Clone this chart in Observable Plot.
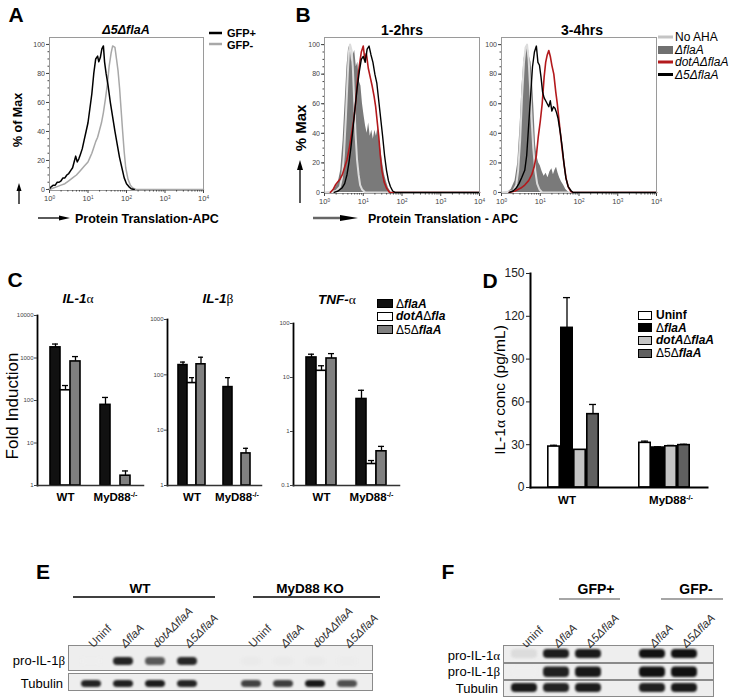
<!DOCTYPE html>
<html><head><meta charset="utf-8">
<script src="https://cdn.jsdelivr.net/npm/d3@7"></script>
<script src="https://cdn.jsdelivr.net/npm/@observablehq/plot@0.6"></script>
<style>
html,body{margin:0;padding:0;background:#fff}
#root{position:relative;width:734px;height:699px;overflow:hidden;font-family:"Liberation Sans",Arial,sans-serif;color:#000}
.t{position:absolute;white-space:nowrap;line-height:1}
.sw{position:absolute;box-sizing:border-box}
.g{font-family:"Liberation Serif","DejaVu Serif",serif;font-weight:normal;font-style:normal}
.n{font-weight:normal;font-style:normal}
</style></head><body><div id="root"></div>
<script>
// ================= DATA =================
// Panel A – flow histograms: [log10 fluorescence, % of max]
const gfpPos = [[0,0.5],[0.05,2],[0.1,3],[0.15,3],[0.2,5],[0.25,5],[0.3,6],[0.35,8],[0.4,8],[0.45,10],[0.5,11],[0.55,13],[0.6,15],[0.65,20],[0.68,23],[0.72,19],[0.76,21],[0.8,24],[0.85,28],[0.9,34],[0.95,40],[1.0,46],[1.05,56],[1.1,66],[1.15,80],[1.2,90],[1.25,92],[1.28,88],[1.32,91],[1.36,97],[1.4,99],[1.43,88],[1.47,80],[1.52,72],[1.58,60],[1.64,50],[1.7,40],[1.76,31],[1.82,22],[1.88,15],[1.94,8],[2.0,4],[2.06,2],[2.12,0.5],[2.2,0]];
const gfpNeg = [[0,0],[0.1,1],[0.2,2],[0.3,3],[0.4,4],[0.5,6],[0.6,8],[0.7,10],[0.8,13],[0.9,16],[1.0,19],[1.05,22],[1.1,25],[1.15,29],[1.2,33],[1.25,36],[1.3,41],[1.35,46],[1.4,53],[1.45,62],[1.5,72],[1.55,85],[1.6,94],[1.64,99],[1.7,98],[1.74,90],[1.78,82],[1.82,70],[1.86,55],[1.9,40],[1.94,26],[1.98,15],[2.04,7],[2.1,3],[2.16,1],[2.25,0],[4,0]];
// Panel B – 1-2 hrs
const noAHA1 = [[0,0],[0.3,1],[0.4,4],[0.45,10],[0.5,25],[0.55,50],[0.6,80],[0.63,95],[0.66,100],[0.7,96],[0.73,85],[0.77,60],[0.8,40],[0.84,22],[0.88,12],[0.92,5],[0.97,2],[1.05,0],[4,0]];
const flaA1 = [[0.15,0],[0.25,2],[0.35,6],[0.42,15],[0.48,35],[0.53,60],[0.58,85],[0.62,97],[0.66,100],[0.7,88],[0.74,93],[0.78,96],[0.82,85],[0.86,88],[0.9,75],[0.94,72],[0.98,60],[1.02,52],[1.06,45],[1.1,40],[1.14,47],[1.18,38],[1.22,42],[1.26,36],[1.3,42],[1.34,38],[1.38,44],[1.42,35],[1.46,28],[1.5,20],[1.55,12],[1.6,7],[1.65,3],[1.72,0]];
const dotA1 = [[0.15,0],[0.22,2],[0.28,5],[0.34,7],[0.4,9],[0.46,12],[0.52,17],[0.58,22],[0.64,30],[0.7,40],[0.76,50],[0.8,60],[0.85,75],[0.9,86],[0.95,95],[1.0,99],[1.04,90],[1.08,94],[1.13,84],[1.18,78],[1.23,72],[1.28,65],[1.32,58],[1.36,48],[1.4,38],[1.44,25],[1.48,15],[1.54,7],[1.6,3],[1.68,0],[4,0]];
const d5_1 = [[0.25,0],[0.35,1],[0.45,3],[0.52,6],[0.58,12],[0.63,20],[0.68,30],[0.73,42],[0.78,55],[0.84,70],[0.9,82],[0.95,90],[1.0,92],[1.05,88],[1.1,97],[1.15,99],[1.2,93],[1.25,88],[1.3,80],[1.35,74],[1.4,62],[1.45,50],[1.5,38],[1.55,25],[1.6,15],[1.65,8],[1.7,4],[1.76,1],[1.82,0],[4,0]];
// Panel B – 3-4 hrs
const noAHA2 = [[0,0],[0.3,1],[0.38,5],[0.43,15],[0.48,35],[0.53,65],[0.58,88],[0.62,98],[0.66,100],[0.7,90],[0.74,70],[0.78,48],[0.82,30],[0.87,15],[0.92,6],[0.98,2],[1.05,0],[4,0]];
const flaA2 = [[0.15,0],[0.25,2],[0.35,8],[0.42,20],[0.48,45],[0.53,72],[0.58,90],[0.63,97],[0.68,100],[0.72,92],[0.76,88],[0.8,75],[0.84,55],[0.88,32],[0.92,24],[0.96,20],[1.0,18],[1.05,14],[1.1,11],[1.15,13],[1.2,10],[1.25,14],[1.3,16],[1.34,12],[1.38,15],[1.42,17],[1.46,13],[1.5,10],[1.55,7],[1.6,5],[1.66,2],[1.74,0]];
const dotA2 = [[0.2,0],[0.35,1],[0.5,3],[0.6,5],[0.7,8],[0.78,12],[0.84,17],[0.9,25],[0.95,38],[1.0,48],[1.05,60],[1.1,78],[1.14,88],[1.18,93],[1.22,96],[1.26,92],[1.3,86],[1.35,80],[1.4,68],[1.44,60],[1.48,50],[1.52,40],[1.57,28],[1.62,18],[1.67,9],[1.72,4],[1.78,1],[1.84,0],[4,0]];
const d5_2 = [[0.2,0],[0.3,1],[0.38,3],[0.45,6],[0.52,10],[0.6,15],[0.65,25],[0.7,45],[0.75,65],[0.8,85],[0.85,95],[0.9,99],[0.94,88],[0.98,86],[1.02,78],[1.06,68],[1.1,64],[1.14,62],[1.18,60],[1.22,58],[1.26,62],[1.3,55],[1.34,58],[1.38,57],[1.42,54],[1.46,50],[1.52,40],[1.57,30],[1.61,20],[1.66,10],[1.72,4],[1.8,1],[1.85,0],[4,0]];
const bLegend = ["No AHA","ΔflaA","dotAΔflaA","Δ5ΔflaA"];
const logTicks = [0,1,2,3,4];
const pctTicks = [0,20,40,60,80,100];

// Panel C – fold induction (qPCR)
const cGroups = ["WT","MyD88"];
const cStrains = ["ΔflaA","dotAΔfla","Δ5ΔflaA"];
const il1aMean = [[1780,174,830],[79,null,1.7]];
const il1aErr  = [[2130,225,1080],[118,null,2.2]];
const il1bMean = [[150,71,155],[60,null,3.8]];
const il1bErr  = [[170,89,208],[89,null,4.7]];
const tnfMean  = [[23.5,13.3,22.5],[4.0,0.25,0.43]];
const tnfErr   = [[27,16.5,27.7],[5.8,0.29,0.53]];

// Panel D – IL-1α ELISA
const dStrains = ["Uninf","ΔflaA","dotAΔflaA","Δ5ΔflaA"];
const dMean = [[28.7,111.9,26.4,51.4],[31.3,28,28.9,29.7]];
const dErr  = [[29.6,133.1,null,58.2],[32.5,28.5,29.5,30.3]];
const dTicks = [0,30,60,90,120,150];

// Panel E – western blot band intensities (0..1)
const eGroups = ["WT","KO"];
const eLanes = ["Uninf","ΔflaA","dotAΔflaA","Δ5ΔflaA"];
const eProIL1b = [[0,0.92,0.68,0.9],[0.02,0.02,0.02,0.01]];
const eTubulin = [[0.92,0.93,0.95,0.92],[0.78,0.8,0.97,0.72]];

// Panel F – western blot band intensities (0..1)
const fLanes = ["uninf","GFP+|ΔflaA","GFP+|Δ5ΔflaA","GFP-|ΔflaA","GFP-|Δ5ΔflaA"];
const fProIL1a = [0.08,0.95,0.96,1,1];
const fProIL1b = [0,0.93,0.97,1,1];
const fTubulin = [0.96,0.92,0.95,0.93,0.96];

// ================= HELPERS =================
const FONT = '"Liberation Sans", Arial, sans-serif';
const root = document.getElementById("root");
const SVGNS = "http://www.w3.org/2000/svg";
function place(svg, left, top){ svg.style.position="absolute"; svg.style.left=left+"px"; svg.style.top=top+"px"; svg.style.maxWidth="none"; root.appendChild(svg); return svg; }
function sup(svg){
  svg.querySelectorAll("text").forEach(t=>{
    if (t.querySelector("tspan")) return;
    const s=t.textContent; const i=s.indexOf("^"); if(i<0) return;
    t.textContent=s.slice(0,i);
    const ts=document.createElementNS(SVGNS,"tspan");
    ts.setAttribute("dy","-0.45em"); ts.setAttribute("font-size","0.62em"); ts.textContent=s.slice(i+1);
    t.appendChild(ts);
  });
}
function txt(html,x,y,o={}){
  const d=document.createElement("div"); d.className="t"; d.innerHTML=html;
  const a=o.anchor||"middle"; const tx=a==="middle"?"-50%":a==="end"?"-100%":"0";
  d.style.left=x+"px"; d.style.top=y+"px"; d.style.fontSize=(o.size||12)+"px";
  d.style.fontWeight=o.weight||"normal"; d.style.fontStyle=o.style||"normal"; d.style.color=o.color||"#000";
  d.style.transform=`translate(${tx},-50%)`+(o.rotate?` rotate(${o.rotate}deg)`:"");
  root.appendChild(d); return d;
}
function sw(x,y,w,h,css){ const d=document.createElement("div"); d.className="sw"; d.style.cssText=`left:${x}px;top:${y}px;width:${w}px;height:${h}px;${css}`; root.appendChild(d); }
const deco = document.createElementNS(SVGNS,"svg");
deco.setAttribute("width",734); deco.setAttribute("height",699);
deco.style.cssText="position:absolute;left:0;top:0;overflow:visible";
root.appendChild(deco);
function seg(x1,y1,x2,y2,w,c){ const l=document.createElementNS(SVGNS,"line"); [["x1",x1],["y1",y1],["x2",x2],["y2",y2],["stroke",c],["stroke-width",w]].forEach(([k,v])=>l.setAttribute(k,v)); deco.appendChild(l); }
function arrowHead(x,y,dir,len,wid,c){ const p=document.createElementNS(SVGNS,"path"); let d; if(dir==="up") d=`M${x},${y}L${x-wid/2},${y+len}L${x+wid/2},${y+len}Z`; else d=`M${x},${y}L${x-len},${y-wid/2}L${x-len},${y+wid/2}Z`; p.setAttribute("d",d); p.setAttribute("fill",c); deco.appendChild(p); }

const logMinor = d3.range(0,4).flatMap(d=>d3.range(2,10).map(k=>d+Math.log10(k)));
const it = (s)=>s.replace(/(flaA|fla|dotA)/g,"<b><i>$1</i></b>");

// ================= PANEL A & B =================
function histo({x0,x1,y0,y1,fills=[],lines=[]}){
  const mL=30,mR=8,mT=4,mB=18;
  const svg = Plot.plot({
    width:x1-x0+mL+mR, height:y1-y0+mT+mB, marginLeft:mL, marginRight:mR, marginTop:mT, marginBottom:mB,
    style:{background:"transparent", fontFamily:FONT, fontSize:"7px", overflow:"visible", color:"#444"},
    x:{domain:[0,4]}, y:{domain:[-0.7,104.8]},
    marks:[
      ...fills.map(f=>Plot.areaY(f.data,{x:v=>v[0],y:v=>v[1],fill:f.color})),
      ...lines.map(l=>Plot.line(l.data,{x:v=>v[0],y:v=>v[1],stroke:l.color,strokeWidth:l.w||1.4})),
      Plot.frame({stroke:"#9a9a9a"}),
      Plot.axisY(d3.range(0,101,5),{tickSize:1.5,tickFormat:()=>"",label:null}),
      Plot.axisY(pctTicks,{tickSize:3,tickPadding:1.5,label:null,fontSize:7}),
      Plot.axisX(logMinor,{tickSize:1.5,tickFormat:()=>"",label:null}),
      Plot.axisX(logTicks,{tickSize:3,tickPadding:2,label:null,tickFormat:d=>"10^"+d,fontSize:7.5})
    ]
  });
  sup(svg); place(svg,x0-mL,y0-mT);
}
const RED="#b3191c", LG="#dcdcdc", FG="#7a7a7a";
histo({x0:49,x1:203,y0:37,y1:190,lines:[{data:gfpNeg,color:"#a8a8a8",w:1.5},{data:gfpPos,color:"#000",w:1.5}]});
histo({x0:324,x1:479,y0:37,y1:193,fills:[{data:flaA1,color:FG}],lines:[{data:noAHA1,color:LG,w:2},{data:dotA1,color:RED,w:1.6},{data:d5_1,color:"#000",w:1.4}]});
histo({x0:501,x1:656,y0:37,y1:193,fills:[{data:flaA2,color:FG}],lines:[{data:noAHA2,color:LG,w:2},{data:dotA2,color:RED,w:1.6},{data:d5_2,color:"#000",w:1.4}]});

// A texts
txt("A",16,14,{size:21,weight:"bold"});
txt("<b><i>Δ5ΔflaA</i></b>",126,30,{size:12.5});
seg(209,33,222,33,2.5,"#000"); txt("GFP+",227,33,{size:11,weight:"bold",anchor:"start"});
seg(209,44,222,44,2.5,"#a8a8a8"); txt("GFP-",227,44.5,{size:11,weight:"bold",anchor:"start"});
txt("% of Max",18,120,{size:12.5,weight:"bold",rotate:-90});
seg(19,204,19,190,1.3,"#000"); arrowHead(19,183,"up",8,5,"#000");
seg(38,218,60,218,1.3,"#000"); arrowHead(70,218,"right",11,5,"#000");
txt("Protein Translation-APC",75,219,{size:12.5,weight:"bold",anchor:"start"});
// B texts
txt("B",303,14,{size:21,weight:"bold"});
txt("1-2hrs",402,30,{size:14,weight:"bold"});
txt("3-4hrs",582,30,{size:14,weight:"bold"});
txt("% Max",300,128,{size:15,weight:"bold",rotate:-90});
seg(300,203,300,170,1.3,"#000"); arrowHead(300,160,"up",10,6,"#000");
seg(313,218,342,218,2.5,"#666"); arrowHead(358,218,"right",18,6,"#000");
txt("Protein Translation - APC",368,219,{size:12.5,weight:"bold",anchor:"start"});
const bY=[37,49.5,62,74.5];
seg(658,bY[0],673,bY[0],3,"#c4c4c4");
sw(658,bY[1]-4,15,8,"background:#707070");
seg(658,bY[2],673,bY[2],3,RED);
seg(658,bY[3],673,bY[3],3,"#000");
bLegend.forEach((s,i)=>txt(i===0?s:`<i>${s}</i>`,675,bY[i],{size:12,anchor:"start"}));

// ================= PANEL C =================
const cColor = {domain:cStrains, range:["#111","#fff","#808080"]};
function foldPlot({mean,err,domain,ticks,x0,w,y0,y1}){
  const data=[];
  cGroups.forEach((g,gi)=>cStrains.forEach((s,si)=>{ if(mean[gi][si]!=null) data.push({key:g+"|"+s,s,v:mean[gi][si],e:err[gi][si]}); }));
  const keys=[...cStrains.map(s=>"WT|"+s)," ","  ",...cStrains.map(s=>"MyD88|"+s)];
  const mL=26,mR=4,mT=4,mB=22;
  const svg=Plot.plot({
    width:w+mL+mR,height:y1-y0+mT+mB,marginLeft:mL,marginRight:mR,marginTop:mT,marginBottom:mB,
    style:{background:"transparent",fontFamily:FONT,overflow:"visible",color:"#000"},
    x:{type:"band",domain:keys,paddingInner:0,paddingOuter:1},
    y:{type:"log",domain},
    color:cColor,
    marks:[
      Plot.ruleX(data.filter(d=>d.e!=null),{x:"key",y1:"v",y2:"e",stroke:"#000",strokeWidth:1.3}),
      Plot.tickY(data.filter(d=>d.e!=null),{x:"key",y:"e",stroke:"#000",strokeWidth:1.3,insetLeft:2,insetRight:2}),
      Plot.barY(data,{x:"key",y1:domain[0],y2:"v",fill:"s",stroke:"#000",strokeWidth:1.6}),
      Plot.frame({anchor:"left",stroke:"#000",strokeWidth:1.8}),
      Plot.frame({anchor:"bottom",stroke:"#333",strokeWidth:1.5}),
      Plot.axisY(ticks,{tickSize:3,tickPadding:1,fontSize:6,label:null,tickFormat:d=>String(d),color:"#444"}),
      Plot.axisX(["WT|"+cStrains[1],"MyD88|"+cStrains[1]],{tickSize:0,tickPadding:7,label:null,fontSize:11.5,fontWeight:"bold",tickFormat:k=>k.startsWith("WT")?"WT":"MyD88^-/-"})
    ]
  });
  sup(svg); place(svg,x0-mL,y0-mT);
}
foldPlot({mean:il1aMean,err:il1aErr,domain:[1,10000],ticks:[1,10,100,1000,10000],x0:37,w:106,y0:315,y1:485});
foldPlot({mean:il1bMean,err:il1bErr,domain:[1,1000],ticks:[1,10,100,1000],x0:167,w:94,y0:319,y1:485});
foldPlot({mean:tnfMean,err:tnfErr,domain:[0.1,100],ticks:[0.1,1,10,100],x0:293,w:106,y0:323,y1:485});
txt("C",15,279,{size:21,weight:"bold"});
txt('<b><i>IL-1</i></b><span class="g">α</span>',78,299,{size:13.5});
txt('<b><i>IL-1</i></b><span class="g">β</span>',218,299,{size:13.5});
txt('<b><i>TNF-</i></b><span class="g">α</span>',337,300,{size:13.5});
txt("Fold Induction",12,406,{size:17,rotate:-90});
const cLY=[303.5,316,329.5];
cStrains.forEach((s,i)=>{ sw(377,cLY[i]-4.5,16,9,`background:${cColor.range[i]};border:1.5px solid #000`); txt(it(s),396,cLY[i],{size:12,anchor:"start"}); });

// ================= PANEL D =================
(function(){
  const data=[];
  cGroups.forEach((g,gi)=>dStrains.forEach((s,si)=>data.push({key:g+"|"+s,s,v:dMean[gi][si],e:dErr[gi][si]})));
  const keys=[...dStrains.map(s=>"WT|"+s)," ","  ","   ",...dStrains.map(s=>"MyD88|"+s)];
  const x0=530,w=177,y0=273,y1=487,mL=34,mR=4,mT=6,mB=22;
  const svg=Plot.plot({
    width:w+mL+mR,height:y1-y0+mT+mB,marginLeft:mL,marginRight:mR,marginTop:mT,marginBottom:mB,
    style:{background:"transparent",fontFamily:FONT,overflow:"visible",color:"#000"},
    x:{type:"band",domain:keys,paddingInner:0,paddingOuter:1.3},
    y:{domain:[0,150]},
    color:{domain:dStrains,range:["#fff","#000","#c4c4c4","#606060"]},
    marks:[
      Plot.ruleX(data.filter(d=>d.e!=null),{x:"key",y1:"v",y2:"e",stroke:"#000",strokeWidth:1.3}),
      Plot.tickY(data.filter(d=>d.e!=null),{x:"key",y:"e",stroke:"#000",strokeWidth:1.3,insetLeft:3,insetRight:3}),
      Plot.barY(data,{x:"key",y:"v",fill:"s",stroke:"#000",strokeWidth:1.6,insetLeft:0.8,insetRight:0.8}),
      Plot.frame({anchor:"left",stroke:"#000",strokeWidth:2}),
      Plot.frame({anchor:"bottom",stroke:"#000",strokeWidth:2}),
      Plot.axisY(dTicks,{tickSize:4,tickPadding:2,fontSize:12,label:null,color:"#222"}),
      Plot.axisX(["WT|"+dStrains[1],"MyD88|"+dStrains[2]],{tickSize:0,tickPadding:8,label:null,fontSize:11.5,fontWeight:"bold",tickFormat:k=>k.startsWith("WT")?"WT":"MyD88^-/-"})
    ]
  });
  sup(svg); place(svg,x0-mL,y0-mT);
})();
txt("D",490,280,{size:21,weight:"bold"});
txt('IL-1<span class="g">α</span> conc (pg/mL)',500,390,{size:15.5,rotate:-90});
const dLY=[315,327.7,340.3,353];
const dFill=["#fff","#000","#c4c4c4","#606060"];
dStrains.forEach((s,i)=>{ sw(638,dLY[i]-4.5,14,9,`background:${dFill[i]};border:1.5px solid #000`); txt(i===0?"<b>Uninf</b>":it(s),656,dLY[i],{size:12,anchor:"start"}); });

// ================= BLOTS (E, F) =================
function blotRow({keys,range,data,x0,x1,y0,y1,inset,labels,mT=0}){
  const [iT,iB,iX]=inset;
  const marks=[
    Plot.frame({fill:"#eeeeee",stroke:"#8a8a8a",strokeWidth:1}),
    Plot.cell(data,{x:"key",fill:"v",insetTop:iT,insetBottom:iB,insetLeft:iX,insetRight:iX,rx:4,imageFilter:"blur(0.8px)"})
  ];
  if(labels){
    marks.push(Plot.text(labels.filter(d=>!d.italic),{x:"key",text:"label",frameAnchor:"top",rotate:-45,textAnchor:"start",dx:-4,dy:-3,fontSize:11.5,fill:"#333"}));
    marks.push(Plot.text(labels.filter(d=>d.italic),{x:"key",text:"label",frameAnchor:"top",rotate:-45,textAnchor:"start",dx:-4,dy:-3,fontSize:11.5,fontStyle:"italic",fill:"#333"}));
  }
  const svg=Plot.plot({
    width:x1-x0,height:y1-y0+mT,marginLeft:0,marginRight:0,marginTop:mT,marginBottom:0,
    style:{background:"transparent",fontFamily:FONT,overflow:"visible"},
    x:{type:"band",domain:keys,range:[range[0]-x0,range[1]-x0],padding:0,axis:null},
    color:{type:"linear",domain:[0,1],range:["#eeeeee","#111111"]},
    marks
  });
  place(svg,x0,y0-mT);
}
// E
const eKeys=[...eLanes.map(s=>"WT|"+s),"gap",...eLanes.map(s=>"KO|"+s)];
const eData=(vals)=>eGroups.flatMap((g,gi)=>eLanes.map((s,si)=>({key:g+"|"+s,v:vals[gi][si]})));
const eLabels=eGroups.flatMap(g=>eLanes.map(s=>({key:g+"|"+s,label:s,italic:s!=="Uninf"})));
blotRow({keys:eKeys,range:[71,367],data:eData(eProIL1b),x0:68,x1:372,y0:645,y1:670,inset:[12,5,6],labels:eLabels,mT:60});
blotRow({keys:eKeys,range:[71,367],data:eData(eTubulin),x0:68,x1:372,y0:673,y1:690,inset:[7,3,6]});
txt("E",43,571,{size:21,weight:"bold"});
txt("WT",140,589,{size:13.5,weight:"bold"}); seg(73,597,215,597,1.3,"#000");
txt("MyD88 KO",310,589,{size:13.5,weight:"bold"}); seg(253,597,380,597,1.3,"#000");
txt('pro-IL-1<span class="g">β</span>',65,660,{size:13,anchor:"end"});
txt("Tubulin",63,683,{size:13,anchor:"end"});
// F
const fKeys=[fLanes[0],fLanes[1],fLanes[2],"gap",fLanes[3],fLanes[4]];
const fData=(vals)=>fLanes.map((k,i)=>({key:k,v:vals[i]}));
const fLabels=fLanes.map(k=>({key:k,label:k.split("|").pop(),italic:k!=="uninf"}));
blotRow({keys:fKeys,range:[505,702],data:fData(fProIL1a),x0:503,x1:713,y0:645,y1:662,inset:[4,4,3],labels:fLabels,mT:60});
blotRow({keys:fKeys,range:[505,702],data:fData(fProIL1b),x0:503,x1:713,y0:663,y1:679,inset:[3.5,2,3]});
blotRow({keys:fKeys,range:[505,702],data:fData(fTubulin),x0:503,x1:713,y0:680,y1:696,inset:[3,4,3]});
txt("F",448,571,{size:21,weight:"bold"});
txt("GFP+",596,589,{size:14,weight:"bold"}); seg(559,599,620,599,1.3,"#888");
txt("GFP-",696,589,{size:14,weight:"bold"}); seg(661,599,723,599,1.3,"#888");
txt('pro-IL-1<span class="g">α</span>',500,655,{size:13,anchor:"end"});
txt('pro-IL-1<span class="g">β</span>',500,671,{size:13,anchor:"end"});
txt("Tubulin",498,688,{size:13,anchor:"end"});
</script></body></html>
